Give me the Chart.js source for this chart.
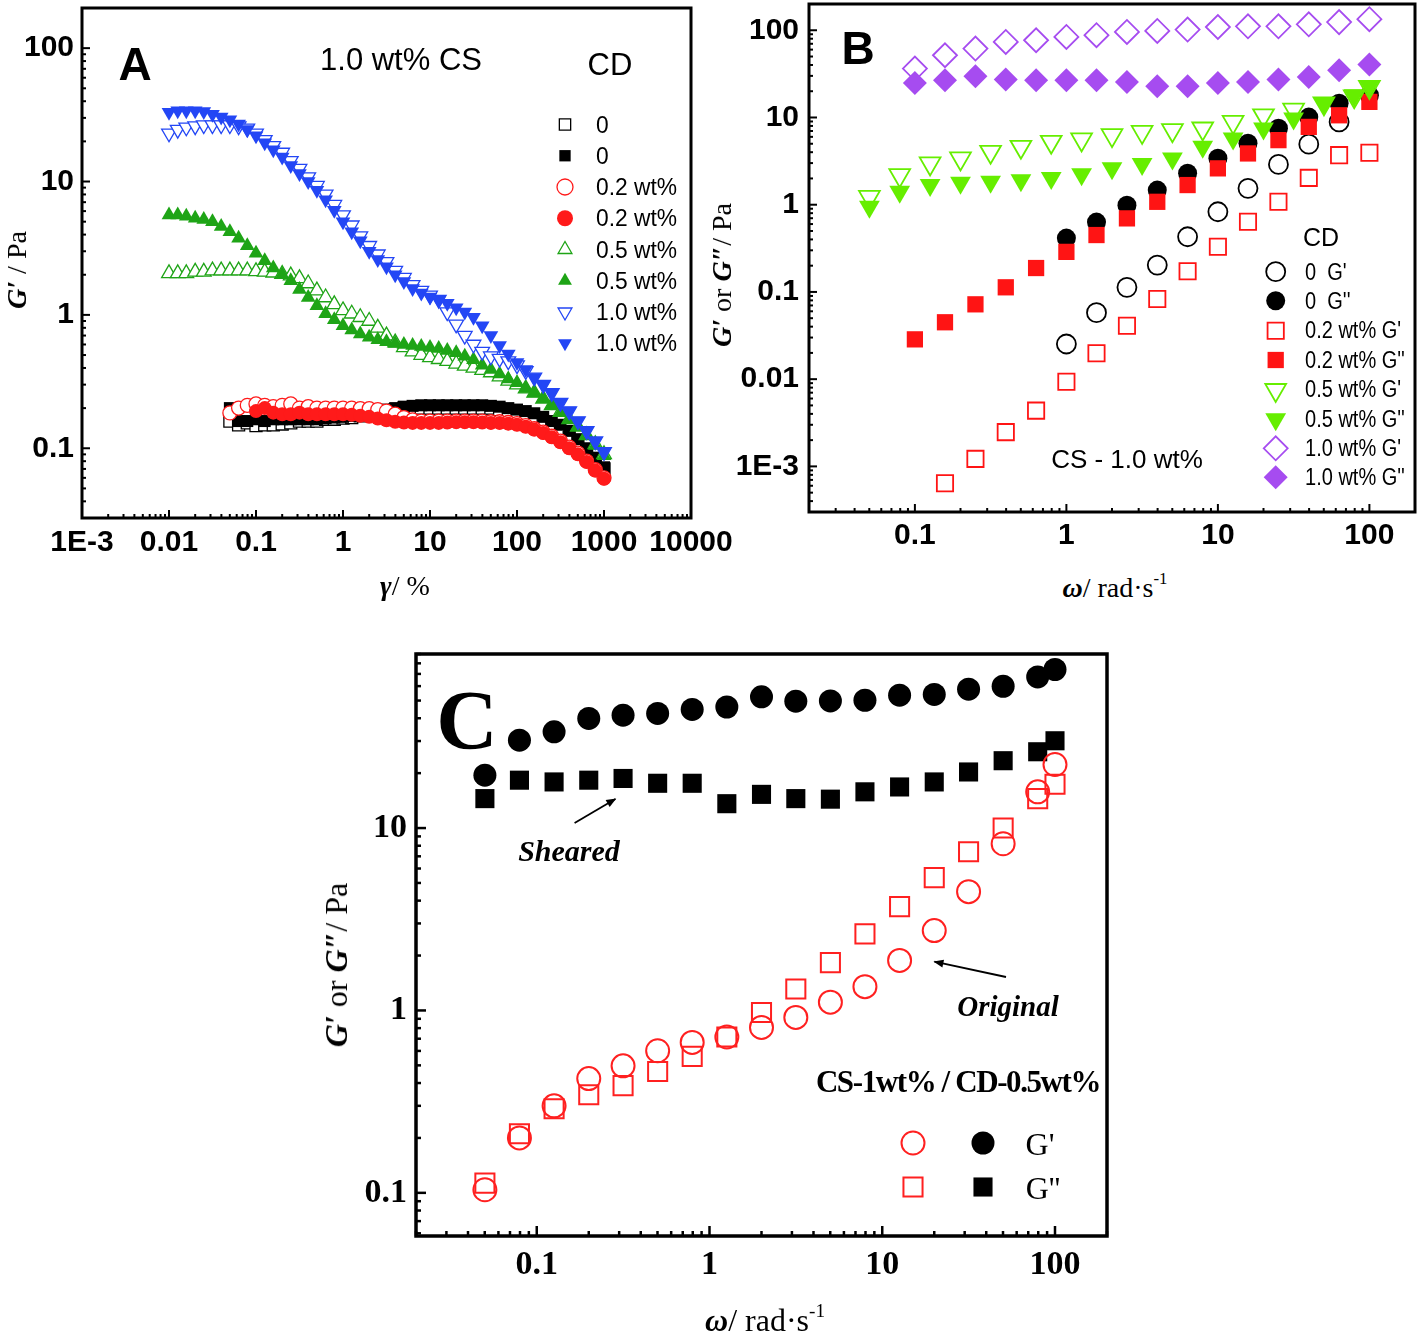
<!DOCTYPE html>
<html>
<head>
<meta charset="utf-8">
<script src="https://cdn.jsdelivr.net/npm/chart.js@4.4.1/dist/chart.umd.min.js"></script>
<style>
  body { margin: 0; background: #fff; width: 1418px; height: 1338px; position: relative; overflow: hidden; }
  .box { position: absolute; }
  .t { position: absolute; white-space: nowrap; line-height: 1; color: #000; transform: translate(-50%, -50%); }
  .sans { font-family: 'Liberation Sans', Arial, sans-serif; }
  .serif { font-family: 'Liberation Serif', 'Times New Roman', serif; }
  .rot { transform: translate(-50%, -50%) rotate(-90deg); }
  .l { transform-origin: 0 50%; }
  sup { font-size: 60%; vertical-align: 0.75em; line-height: 0; }
</style>
</head>
<body>
<div class="box" style="left:0;top:0"><canvas id="ca" width="745" height="575"></canvas></div>
<div class="box" style="left:700px;top:0"><canvas id="cb" width="718" height="565"></canvas></div>
<div class="box" style="left:320px;top:620px"><canvas id="cc" width="830" height="690"></canvas></div>

<!-- panel A text -->
<div class="t serif rot" style="left:17px;top:270px;font-size:28px"><b><i>G′</i></b> / Pa</div>
<div class="t serif" style="left:405px;top:586px;font-size:28px"><b><i>γ</i></b>/ %</div>
<div class="t" style="left:135px;top:64px;font:bold 46px 'Liberation Sans',Arial,sans-serif">A</div>
<div class="t sans" style="left:401px;top:59px;font-size:31px">1.0 wt% CS</div>
<div class="t sans" style="left:610px;top:64px;font-size:31px">CD</div>

<!-- panel B text -->
<div class="t serif rot" style="left:722px;top:275px;font-size:28px"><b><i>G′</i></b> or <b><i>G″</i></b>/ Pa</div>
<div class="t serif" style="left:1115px;top:588px;font-size:28px"><b><i>ω</i></b>/ rad·s<sup>-1</sup></div>
<div class="t" style="left:858px;top:48px;font:bold 46px 'Liberation Sans',Arial,sans-serif">B</div>
<div class="t sans" style="left:1321px;top:237px;font-size:25px">CD</div>
<div class="t sans" style="left:1127px;top:459px;font-size:26px">CS - 1.0 wt%</div>

<!-- panel C text -->
<div class="t serif rot" style="left:336px;top:965px;font-size:32px"><b><i>G′</i></b> or <b><i>G″</i></b>/ Pa</div>
<div class="t serif" style="left:765px;top:1320px;font-size:32px"><b><i>ω</i></b>/ rad·s<sup>-1</sup></div>
<div class="t serif" style="left:467px;top:720px;font-size:85px;font-weight:bold">C</div>
<div class="t serif" style="left:569px;top:851px;font-size:30px;font-weight:bold;font-style:italic">Sheared</div>
<div class="t serif" style="left:1008px;top:1006px;font-size:29px;font-weight:bold;font-style:italic">Original</div>
<div class="t serif" style="left:958px;top:1081px;font-size:31px;font-weight:bold;letter-spacing:-1.4px">CS-1wt% / CD-0.5wt%</div>
<div class="t serif" style="left:1040px;top:1144px;font-size:32px">G'</div>
<div class="t serif" style="left:1043px;top:1188px;font-size:32px">G''</div>

<svg style="position:absolute;left:0;top:0;pointer-events:none" width="1418" height="1338">
  <defs>
    <marker id="ah" viewBox="0 0 10 10" refX="9" refY="5" markerUnits="userSpaceOnUse" markerWidth="13" markerHeight="10" orient="auto">
      <path d="M0,1 L10,5 L0,9 z" fill="#000"/>
    </marker>
  </defs>
  <line x1="574.6" y1="823" x2="615.4" y2="799" stroke="#000" stroke-width="1.8" marker-end="url(#ah)"/>
  <line x1="1006" y1="977" x2="934.4" y2="961.7" stroke="#000" stroke-width="1.8" marker-end="url(#ah)"/>
</svg>

<script>
// ---------- panel A: strain sweep, G' vs gamma (%) ----------
const aGamma = [0.01, 0.0126, 0.0158, 0.02, 0.0251, 0.0316, 0.0398, 0.0501, 0.0631, 0.0794,
  0.1, 0.126, 0.158, 0.2, 0.251, 0.316, 0.398, 0.501, 0.631, 0.794,
  1, 1.26, 1.58, 2, 2.51, 3.16, 3.98, 5.01, 6.31, 7.94,
  10, 12.6, 15.8, 20, 25.1, 31.6, 39.8, 50.1, 63.1, 79.4,
  100, 126, 158, 200, 251, 316, 398, 501, 631, 794, 1000];

const aBlackOpen = [0.16, 0.15, 0.155, 0.148, 0.15, 0.15, 0.152, 0.155, 0.16, 0.16,
  0.16, 0.165, 0.165, 0.168, 0.17, 0.175, 0.18, 0.185, 0.19, 0.195,
  0.2, 0.2, 0.2, 0.2, 0.2, 0.2, 0.2, 0.2, 0.2, 0.2,
  0.2, 0.195, 0.19, 0.185, 0.178, 0.168, 0.157, 0.145, 0.132, 0.12,
  0.113, 0.097, 0.083, 0.07];
const aBlackFilled = [0.2, 0.16, 0.16, 0.165, 0.16, 0.165, 0.165, 0.165, 0.165, 0.165,
  0.165, 0.168, 0.17, 0.172, 0.175, 0.18, 0.185, 0.19, 0.195, 0.2,
  0.205, 0.208, 0.21, 0.21, 0.21, 0.21, 0.21, 0.21, 0.21, 0.21,
  0.208, 0.205, 0.2, 0.195, 0.19, 0.183, 0.172, 0.16, 0.15, 0.135,
  0.117, 0.1, 0.085, 0.072];
const aRedOpen = [0.184, 0.2, 0.21, 0.215, 0.21, 0.205, 0.21, 0.215, 0.2, 0.205,
  0.2, 0.2, 0.2, 0.2, 0.2, 0.198, 0.198, 0.195, 0.19, 0.18,
  0.17, 0.163, 0.16, 0.16, 0.16, 0.16, 0.16, 0.16, 0.16, 0.16,
  0.158, 0.158, 0.156, 0.153, 0.148, 0.14, 0.132, 0.123, 0.113, 0.102,
  0.092, 0.08, 0.069, 0.06];
const aRedFilled = [0.19, 0.2, 0.185, 0.18, 0.18, 0.185, 0.18, 0.18, 0.18, 0.18,
  0.18, 0.178, 0.175, 0.172, 0.167, 0.162, 0.158, 0.156, 0.155, 0.155,
  0.155, 0.155, 0.156, 0.157, 0.157, 0.157, 0.156, 0.155, 0.155, 0.153,
  0.15, 0.145, 0.138, 0.13, 0.121, 0.111, 0.1, 0.09, 0.079, 0.068,
  0.059];
const aGreenOpen = [2.05, 2.05, 2.05, 2.1, 2.1, 2.15, 2.15, 2.15, 2.15, 2.15,
  2.12, 2.1, 2.07, 2.02, 1.97, 1.88, 1.72, 1.52, 1.35, 1.2,
  1.08, 1.02, 0.96, 0.9, 0.8, 0.7, 0.62, 0.57, 0.53, 0.5,
  0.48, 0.465, 0.45, 0.43, 0.415, 0.4, 0.385, 0.37, 0.345, 0.32,
  0.3, 0.28, 0.26, 0.235, 0.21, 0.187, 0.165, 0.145, 0.125, 0.107,
  0.09];
const aGreenFilled = [5.6, 5.6, 5.5, 5.3, 5.2, 5.0, 4.6, 4.2, 3.75, 3.3,
  2.9, 2.55, 2.25, 2.0, 1.8, 1.55, 1.35, 1.17, 1.02, 0.92,
  0.83, 0.77, 0.72, 0.68, 0.65, 0.63, 0.61, 0.6, 0.59, 0.58,
  0.57, 0.56, 0.54, 0.52, 0.49, 0.46, 0.42, 0.39, 0.36, 0.33,
  0.31, 0.28, 0.26, 0.235, 0.21, 0.185, 0.165, 0.145, 0.125, 0.105,
  0.088];
const aBlueOpen = [23, 24.5, 25.5, 26, 26.5, 26.5, 26.5, 26.5, 26, 25,
  23, 20.5, 18.5, 16.5, 14.3, 12.5, 10.8, 9.3, 8.0, 6.7,
  5.6, 4.7, 3.9, 3.3, 2.85, 2.5, 2.15, 1.9, 1.68, 1.52,
  1.4, 1.3, 1.05, 0.85, 0.7, 0.6, 0.53, 0.49, 0.47, 0.45,
  0.42, 0.38, 0.34, 0.3, 0.26, 0.22, 0.19, 0.16, 0.135, 0.113,
  0.094];
const aBlueFilled = [33, 34, 34, 34, 33.5, 32, 30.5, 29, 27, 24.5,
  22, 19.5, 17.3, 15.3, 13.2, 11.5, 10, 8.6, 7.3, 6.1,
  5.0, 4.2, 3.6, 3.0, 2.6, 2.3, 2.0, 1.78, 1.58, 1.46,
  1.36, 1.29, 1.22, 1.13, 1.05, 0.96, 0.83, 0.7, 0.59, 0.51,
  0.44, 0.39, 0.34, 0.3, 0.26, 0.22, 0.19, 0.16, 0.135, 0.113,
  0.094];
const aLabels = ['0', '0', '0.2 wt%', '0.2 wt%', '0.5 wt%', '0.5 wt%', '1.0 wt%', '1.0 wt%'];
const aXTicks = [0.001, 0.01, 0.1, 1, 10, 100, 1000, 10000];
const aXTickLabels = ['1E-3', '0.01', '0.1', '1', '10', '100', '1000', '10000'];
const aYTicks = [0.1, 1, 10, 100];
const aYTickLabels = ['0.1', '1', '10', '100'];

// ---------- panel B: frequency sweep ----------
const bW16 = [0.1, 0.158, 0.251, 0.398, 0.631, 1, 1.58, 2.51, 3.98, 6.31, 10, 15.8, 25.1, 39.8, 63.1, 100];
const bW18 = [0.0501, 0.0794, 0.126, 0.2, 0.316, 0.501, 0.794, 1.26, 2, 3.16, 5.01, 7.94, 12.6, 20, 31.6, 50.1, 79.4, 100];
const bCD0Gp = [0.0253, 0.0578, 0.113, 0.203, 0.429, 0.83, 1.54, 2.9, 4.94, 8.9];       // from w = 1
const bCD0Gpp = [0.414, 0.632, 0.989, 1.47, 2.3, 3.42, 5.08, 7.55, 10.1, 14.6, 18.0];   // from w = 1
const bCD02Gp = [0.000642, 0.00122, 0.00247, 0.00436, 0.00935, 0.0198, 0.041, 0.083,
  0.173, 0.33, 0.637, 1.08, 2.03, 3.7, 3.94];                                            // from w = 0.158
const bCD02Gpp = [0.0286, 0.0449, 0.0721, 0.113, 0.188, 0.288, 0.449, 0.697,
  1.08, 1.68, 2.61, 3.87, 5.5, 7.8, 10.6, 15.1];
const bCD05Gp = [1.23, 2.18, 2.97, 3.39, 4.04, 4.61, 5.26, 5.6, 6.27, 6.84, 7.15, 7.48, 8.9, 10.6, 12.3, 14.5, 17.5, 22.4];
const bCD05Gpp = [0.946, 1.41, 1.68, 1.78, 1.83, 1.91, 2.03, 2.24, 2.61, 2.92, 3.39, 4.61, 5.74, 7.48, 9.75, 14.6, 18, 23];
const bCD10Gp = [36.4, 51.7, 61.7, 73.5, 76.8, 83.8, 87.7, 95.6, 98.2, 101.9, 109, 111, 111, 117, 124, 134];
const bCD10Gpp = [24.9, 26.7, 29.7, 27.2, 26.7, 26.7, 26.7, 25.6, 22.8, 22.8, 24.9, 25.6, 27.2, 29.2, 34.8, 40.5];
const bLabels = ["0\u00a0\u00a0G'", "0\u00a0\u00a0G''", "0.2 wt% G'", "0.2 wt% G''",
  "0.5 wt% G'", "0.5 wt% G''", "1.0 wt% G'", "1.0 wt% G''"];
const bXTicks = [0.1, 1, 10, 100];
const bXTickLabels = ['0.1', '1', '10', '100'];
const bYTicks = [0.001, 0.01, 0.1, 1, 10, 100];
const bYTickLabels = ['1E-3', '0.01', '0.1', '1', '10', '100'];

// ---------- panel C: sheared vs original ----------
const cW = [0.0501, 0.0794, 0.126, 0.2, 0.316, 0.501, 0.794, 1.26, 2, 3.16, 5.01, 7.94, 12.6, 20, 31.6, 50.1, 79.4, 100];
const cGpSheared = [19.5, 30.3, 33.7, 39.9, 41.6, 42.5, 44.7, 46.1, 52.4, 49.6, 49.8, 50.2, 53.5, 54, 57.7, 59.9, 67.4, 74];
const cGppSheared = [14.5, 18.3, 17.9, 18.3, 18.7, 17.6, 17.6, 13.6, 15.3, 14.5, 14.4, 15.8, 16.8, 17.9, 20.3, 23.4, 26.2, 30.1];
const cGpOrig = [0.104, 0.2, 0.3, 0.423, 0.497, 0.601, 0.668, 0.715, 0.807, 0.916, 1.11, 1.35, 1.88, 2.74, 4.48, 8.2, 15.8, 22.3];
const cGppOrig = [0.113, 0.211, 0.289, 0.345, 0.387, 0.463, 0.56, 0.715, 0.975, 1.31, 1.83, 2.63, 3.71, 5.35, 7.42, 10, 14.5, 17.4];
const cXTicks = [0.1, 1, 10, 100];
const cXTickLabels = ['0.1', '1', '10', '100'];
const cYTicks = [0.1, 1, 10];
const cYTickLabels = ['0.1', '1', '10'];

const NONE = 'rgba(0,0,0,0)';
const sansBold = { family: "'Liberation Sans',Arial,sans-serif", size: 30, weight: 'bold' };
const serifBold = { family: "'Liberation Serif','Times New Roman',serif", size: 34, weight: 'bold' };

function series(xs, ys, style, color, r, filled, openFill, bw, rot) {
  return {
    data: ys.map((y, i) => ({ x: xs[i], y: y })),
    pointStyle: style,
    pointRadius: r,
    pointHoverRadius: r,
    pointRotation: rot || 0,
    pointBackgroundColor: filled ? color : openFill,
    pointBorderColor: color,
    pointBorderWidth: filled ? 0 : bw,
    showLine: false
  };
}

function logAxis(min, max, ticks, labels, font, pad, size, isX) {
  return {
    type: 'logarithmic', min: min, max: max,
    grid: { display: false, drawTicks: false },
    border: { display: false },
    ticks: {
      font: font, color: '#000', padding: pad, autoSkip: false, maxRotation: 0,
      callback: v => { const k = ticks.indexOf(v); return k < 0 ? '' : labels[k]; }
    },
    afterBuildTicks: s => { s.ticks = ticks.map(v => ({ value: v })); },
    afterFit: s => {
      if (isX) s.height = size; else s.width = size;
      s.paddingLeft = 0; s.paddingRight = 0; s.paddingTop = 0; s.paddingBottom = 0;
    }
  };
}

// frame, inward decade/minor ticks and legend symbols
const framePlugin = {
  id: 'frame',
  afterDatasetsDraw(chart, args, o) {
    const ctx = chart.ctx, a = chart.chartArea;
    const xs = chart.scales.x, ys = chart.scales.y;
    ctx.save();
    ctx.strokeStyle = '#000';
    ctx.lineWidth = o.tickWidth;
    [[xs, true], [ys, false]].forEach(([s, isX]) => {
      const e0 = Math.floor(Math.log10(s.min)), e1 = Math.ceil(Math.log10(s.max));
      for (let e = e0; e <= e1; e++) {
        for (let m = 1; m < 10; m++) {
          const v = m * Math.pow(10, e);
          if (v < s.min * 0.999 || v > s.max * 1.001) continue;
          const p = s.getPixelForValue(v);
          const len = m === 1 ? o.major : o.minor;
          ctx.beginPath();
          if (isX) { ctx.moveTo(p, a.bottom); ctx.lineTo(p, a.bottom - len); }
          else { ctx.moveTo(a.left, p); ctx.lineTo(a.left + len, p); }
          ctx.stroke();
        }
      }
    });
    ctx.lineWidth = o.frameWidth;
    ctx.strokeRect(a.left, a.top, a.right - a.left, a.bottom - a.top);
    (o.legend || []).forEach(it => {
      const d = chart.data.datasets[it.i];
      ctx.fillStyle = d.pointBackgroundColor;
      ctx.strokeStyle = d.pointBorderColor;
      ctx.lineWidth = d.pointBorderWidth;
      Chart.helpers.drawPoint(ctx, {
        pointStyle: d.pointStyle, rotation: d.pointRotation,
        radius: it.r || d.pointRadius, borderWidth: d.pointBorderWidth
      }, it.x, it.y);
    });
    ctx.restore();
  }
};

function makeChart(id, datasets, xAxis, yAxis, padding, frameOpts) {
  datasets.forEach((d, i) => { d.order = datasets.length - i; d.clip = 20; });
  return new Chart(document.getElementById(id), {
    type: 'scatter',
    data: { datasets: datasets },
    options: {
      responsive: false, animation: false, events: [],
      layout: { padding: padding, autoPadding: false },
      plugins: { legend: { display: false }, tooltip: { enabled: false }, frame: frameOpts },
      scales: { x: xAxis, y: yAxis }
    },
    plugins: [framePlugin]
  });
}

function addLegendText(labels, left, y0, step, size, sx) {
  labels.forEach((t, i) => {
    const el = document.createElement('div');
    el.className = 't sans l';
    el.style.left = left + 'px';
    el.style.top = (y0 + i * step) + 'px';
    el.style.fontSize = size + 'px';
    el.style.transform = 'translate(0,-50%) scaleX(' + sx + ')';
    el.textContent = t;
    document.body.appendChild(el);
  });
}

// ---- A ----
const blk = '#000000', redA = '#ff1a1a', grnA = '#1ea416', bluA = '#2346f5';
const a0 = aGamma.slice(7), a02 = aGamma.slice(10);
makeChart('ca', [
  series(a0, aBlackOpen, 'rect', blk, 8.5, false, '#fff', 1.3),
  series(a0, aBlackFilled, 'rect', blk, 8.5, true),
  series(a0, aRedOpen, 'circle', redA, 7, false, '#fff', 1.3),
  series(a02, aRedFilled, 'circle', redA, 7, true),
  series(aGamma, aGreenOpen, 'triangle', grnA, 8.5, false, '#fff', 1.3),
  series(aGamma, aGreenFilled, 'triangle', grnA, 8.5, true),
  series(aGamma, aBlueOpen, 'triangle', bluA, 8.5, false, '#fff', 1.3, 180),
  series(aGamma, aBlueFilled, 'triangle', bluA, 8.5, true, null, 0, 180)
],
  logAxis(0.001, 10000, aXTicks, aXTickLabels, sansBold, 7, 52, true),
  logAxis(0.03, 200, aYTicks, aYTickLabels, sansBold, 8, 82, false),
  { left: 0, top: 8, right: 54, bottom: 5 },
  { tickWidth: 2, major: 8, minor: 4, frameWidth: 3,
    legend: [0, 1, 2, 3, 4, 5, 6, 7].map(i => ({ i: i, x: 565, y: 124.5 + 31.25 * i, r: 8 })) });
addLegendText(aLabels, 596, 124.5, 31.25, 24, 0.95);

// ---- B ----
const redB = '#ff1414', grnB = '#66ee00', purB = '#a64cf0';
makeChart('cb', [
  series(bW16.slice(5, 15), bCD0Gp, 'circle', blk, 9.5, false, NONE, 1.8),
  series(bW16.slice(5), bCD0Gpp, 'circle', blk, 9.5, true),
  series(bW16.slice(1), bCD02Gp, 'rect', redB, 11.5, false, NONE, 1.8),
  series(bW16, bCD02Gpp, 'rect', redB, 11.5, true),
  series(bW18, bCD05Gp, 'triangle', grnB, 12, false, NONE, 1.8, 180),
  series(bW18, bCD05Gpp, 'triangle', grnB, 12, true, null, 0, 180),
  series(bW16, bCD10Gp, 'rectRot', purB, 12, false, NONE, 1.8),
  series(bW16, bCD10Gpp, 'rectRot', purB, 12, true)
],
  logAxis(0.02, 200, bXTicks, bXTickLabels, sansBold, 6, 50, true),
  logAxis(0.0003, 200, bYTicks, bYTickLabels, sansBold, 10, 109, false),
  { left: 0, top: 4, right: 3, bottom: 3 },
  { tickWidth: 2, major: 8, minor: 4, frameWidth: 3,
    legend: [271.7, 300.7, 330.7, 360, 390, 419.3, 448.3, 477.3].map((y, i) => ({ i: i, x: 575.7, y: y })) });
addLegendText(bLabels, 1305, 271.7, 29.37, 23, 0.87);

// ---- C ----
const redC = '#ff2020';
makeChart('cc', [
  series(cW, cGpSheared, 'circle', blk, 11.5, true),
  series(cW, cGppSheared, 'rect', blk, 13.5, true),
  series(cW, cGpOrig, 'circle', redC, 11.5, false, NONE, 2),
  series(cW, cGppOrig, 'rect', redC, 13.5, false, NONE, 2)
],
  logAxis(0.02, 200, cXTicks, cXTickLabels, serifBold, 9, 60, true),
  logAxis(0.058, 90, cYTicks, cYTickLabels, serifBold, 9, 96, false),
  { left: 0, top: 34, right: 43, bottom: 14 },
  { tickWidth: 2.5, major: 10, minor: 5, frameWidth: 3.5,
    legend: [{ i: 2, x: 593, y: 523 }, { i: 0, x: 663, y: 523 }, { i: 3, x: 593, y: 567 }, { i: 1, x: 663, y: 567 }] });
</script>
</body>
</html>
